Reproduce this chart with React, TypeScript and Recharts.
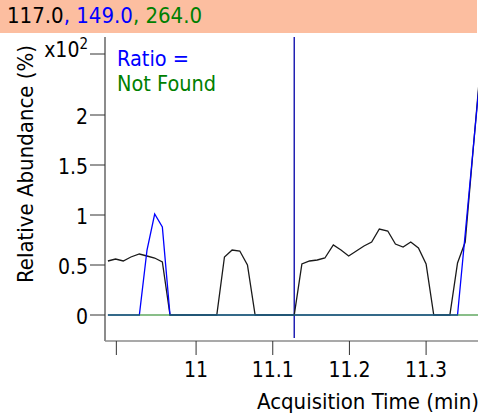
import { Line, LineChart, ReferenceLine, XAxis, YAxis } from "recharts";

const times = [
  10.885, 10.895, 10.905, 10.915, 10.926, 10.936, 10.946, 10.956, 10.966, 10.976,
  10.986, 10.996, 11.006, 11.017, 11.027, 11.037, 11.047, 11.057, 11.067, 11.077,
  11.087, 11.098, 11.108, 11.118, 11.128, 11.138, 11.148, 11.158, 11.168, 11.179,
  11.189, 11.199, 11.209, 11.219, 11.229, 11.239, 11.25, 11.26, 11.27, 11.28,
  11.29, 11.3, 11.31, 11.32, 11.331, 11.341, 11.351, 11.361, 11.371,
];
const ion117 = [
  0.54, 0.56, 0.54, 0.58, 0.61, 0.59, 0.57, 0.53, 0, 0,
  0, 0, 0, 0, 0, 0.58, 0.65, 0.64, 0.5, 0,
  0, 0, 0, 0, 0, 0.51, 0.54, 0.55, 0.57, 0.7,
  0.65, 0.59, 0.64, 0.69, 0.73, 0.86, 0.84, 0.71, 0.68, 0.73,
  0.67, 0.51, 0, 0, 0, 0.52, 0.73, 1.62, 2.5,
];
const ion149 = [
  0, 0, 0, 0, 0, 0.65, 1.01, 0.88, 0, 0,
  0, 0, 0, 0, 0, 0, 0, 0, 0, 0,
  0, 0, 0, 0, 0, 0, 0, 0, 0, 0,
  0, 0, 0, 0, 0, 0, 0, 0, 0, 0,
  0, 0, 0, 0, 0, 0, 0.81, 1.63, 2.45,
];
const ion264 = [
  0, 0, 0, 0, 0, 0, 0, 0, 0, 0,
  0, 0, 0, 0, 0, 0, 0, 0, 0, 0,
  0, 0, 0, 0, 0, 0, 0, 0, 0, 0,
  0, 0, 0, 0, 0, 0, 0, 0, 0, 0,
  0, 0, 0, 0, 0, 0, 0, 0, 0,
];
const xTicks = [10.896, 11, 11.1, 11.2, 11.3];
const yTicks = [0, 0.5, 1, 1.5, 2, 2.61];
const markerTime = 11.128;

const FONT = "'DejaVu Sans Condensed', 'DejaVu Sans', sans-serif";

const data = times.map((t, i) => ({
  t,
  a: ion117[i],
  b: ion149[i],
  c: ion264[i],
}));

function YTick({ x, y, payload }: any) {
  if (payload.value > 2.5) {
    return (
      <text x={x} y={y} dy={3} textAnchor="end" fontFamily={FONT} fontSize={21} fill="#000">
        x10<tspan dy={-8} fontSize={15}>2</tspan>
      </text>
    );
  }
  return (
    <text x={x} y={y} dy={9} textAnchor="end" fontFamily={FONT} fontSize={21} fill="#000">
      {payload.value}
    </text>
  );
}

function XTick({ x, y, payload }: any) {
  if (payload.value < 10.95) return <g />;
  return (
    <text x={x} y={y} dy={16} textAnchor="middle" fontFamily={FONT} fontSize={21} fill="#000">
      {payload.value}
    </text>
  );
}

export default function App() {
  return (
    <div
      style={{
        position: "absolute",
        left: 0,
        top: 0,
        width: 478,
        height: 415,
        overflow: "hidden",
        background: "#fff",
        fontFamily: FONT,
      }}
    >
      <LineChart
        width={478}
        height={415}
        data={data}
        margin={{ top: 37, right: 0, bottom: 0, left: 0 }}
      >
        <XAxis
          dataKey="t"
          type="number"
          domain={[10.8812, 11.3677]}
          allowDataOverflow
          ticks={xTicks}
          interval={0}
          height={74}
          tick={<XTick />}
          tickSize={14}
          tickMargin={6}
          axisLine={{ stroke: "#8c8c8c", strokeWidth: 1.5 }}
          tickLine={{ stroke: "#333" }}
          label={(p: any) => (
            <text
              x={p.viewBox.x + 152}
              y={409}
              fontFamily={FONT}
              fontSize={22}
              fill="#000"
            >
              Acquisition Time (min)
            </text>
          )}
        />
        <YAxis
          type="number"
          domain={[-0.26, 2.78]}
          allowDataOverflow
          ticks={yTicks}
          interval={0}
          width={105}
          tick={<YTick />}
          tickSize={15}
          tickMargin={2}
          axisLine={{ stroke: "#8c8c8c", strokeWidth: 2 }}
          tickLine={{ stroke: "#333" }}
          label={() => (
            <text
              x={33}
              y={164}
              transform="rotate(-90 33 164)"
              textAnchor="middle"
              fontFamily={FONT}
              fontSize={22}
              fill="#000"
            >
              Relative Abundance (%)
            </text>
          )}
        />
        <ReferenceLine
          segment={[
            { x: markerTime, y: -0.23 },
            { x: markerTime, y: 2.78 },
          ]}
          stroke="#0000a8"
          strokeWidth={1.3}
        />
        <Line dataKey="a" stroke="#1a1a1a" strokeWidth={1.3} dot={false} isAnimationActive={false} />
        <Line dataKey="b" stroke="#0000ff" strokeWidth={1.3} dot={false} isAnimationActive={false} />
        <Line dataKey="c" stroke="#2e8b2e" strokeOpacity={0.75} strokeWidth={1.3} dot={false} isAnimationActive={false} />
      </LineChart>
      <div
        style={{
          position: "absolute",
          left: 0,
          top: 0,
          width: 477,
          height: 33,
          background: "#fcbea0",
        }}
      >
        <span style={{ position: "absolute", left: 7, top: 3, fontSize: 22, lineHeight: "26px", whiteSpace: "nowrap" }}>
          <span style={{ color: "#000" }}>117.0</span>
          <span style={{ color: "#0000ff" }}>, 149.0</span>
          <span style={{ color: "#008000" }}>, 264.0</span>
        </span>
      </div>
      <div style={{ position: "absolute", left: 117, top: 46, fontSize: 21.5, lineHeight: "25px", whiteSpace: "nowrap" }}>
        <div style={{ color: "#0000ff" }}>Ratio =</div>
        <div style={{ color: "#008000" }}>Not Found</div>
      </div>
    </div>
  );
}
